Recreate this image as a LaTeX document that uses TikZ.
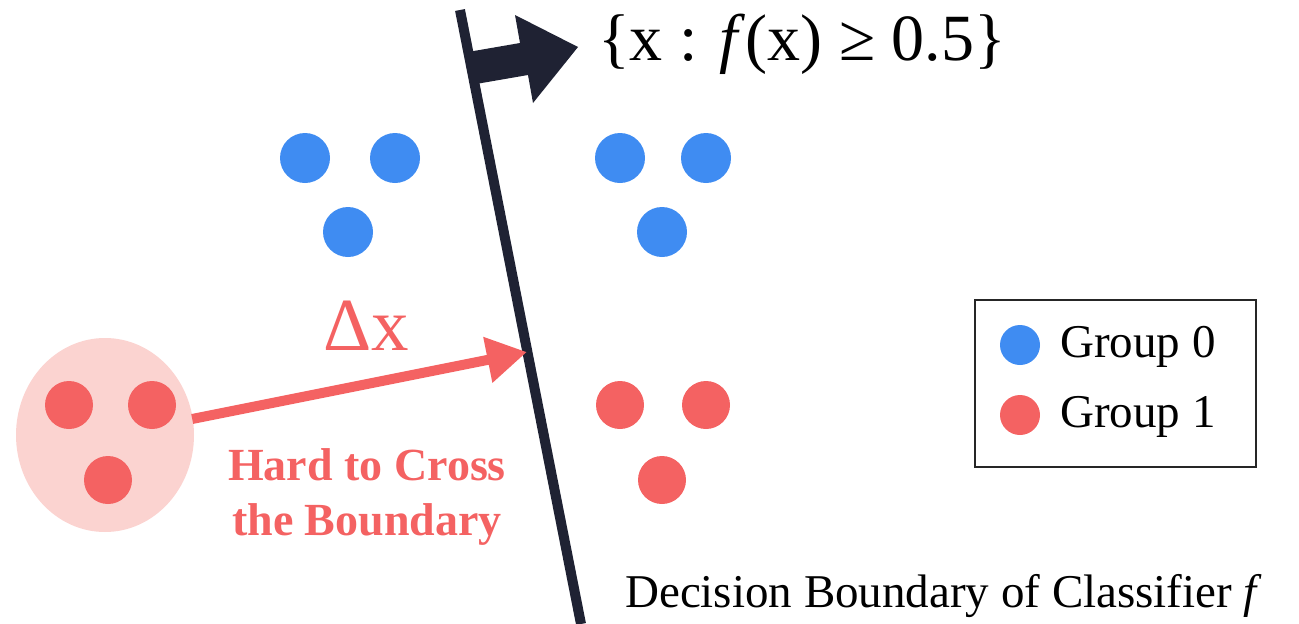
\documentclass[tikz,border=0pt]{standalone}
\usepackage{fontspec}
\setmainfont{Liberation Serif}
\usetikzlibrary{arrows.meta,shapes.geometric}
\definecolor{navy}{HTML}{1F2233}
\definecolor{gblue}{HTML}{3F8CF2}
\definecolor{gred}{HTML}{F46262}
\definecolor{pale}{HTML}{FBD3D0}
\tikzset{
  bdot/.style={circle,fill=gblue,minimum size=50pt,inner sep=0pt},
  rdot/.style={circle,fill=gred,minimum size=48pt,inner sep=0pt},
  ldot/.style={circle,minimum size=40pt,inner sep=0pt},
  lbl/.style={anchor=west,font=\fontsize{47}{50}\selectfont,inner sep=0pt},
}
\begin{document}
\begin{tikzpicture}[x=1pt,y=-1pt]
\useasboundingbox (0,0) rectangle (1299,624);
% pale cluster
\node[ellipse,fill=pale,minimum width=178pt,minimum height=194pt,inner sep=0pt] (cl) at (105,435) {};
\node[rdot] (l1) at (69,405) {};
\node[rdot] (l2) at (152,405) {};
\node[rdot] (l3) at (108,480) {};
% boundary
\coordinate (btop) at (460,10);
\coordinate (bbot) at (581,624);
\draw[navy,line width=10pt] (btop) -- (bbot);
% flag arrow
\fill[navy] (468,52) -- (520,43) -- (515,15) -- (578,47) -- (533,103) -- (528,75) -- (476,84) -- cycle;
\node[anchor=west,inner sep=0pt,font=\fontsize{66}{70}\selectfont] (set) at (598,44) {\{x : \textit{f}(x) ≥ 0.5\}};
% blue dots
\node[bdot] (b1) at (305,158) {};
\node[bdot] (b2) at (395,158) {};
\node[bdot] (b3) at (348,232) {};
\node[bdot] (b4) at (620,158) {};
\node[bdot] (b5) at (706,158) {};
\node[bdot] (b6) at (662,232) {};
% red dots right
\node[rdot] (r1) at (620,405) {};
\node[rdot] (r2) at (706,405) {};
\node[rdot] (r3) at (662,480) {};
% delta arrow
\coordinate (tip) at (527,352);
\draw[gred,line width=10pt,-{Triangle[length=40pt,width=44pt]}] (cl.east)++(-2,-16) -- (tip);
\node[text=gred,font=\fontsize{75}{80}\selectfont] (dx) at (366,326) {Δx};
\node[text=gred,font=\bfseries\fontsize{46}{55}\selectfont,align=center] (hard) at (367,497) {Hard to Cross\\the Boundary};
% legend
\node[draw=black!85,line width=1.5pt,minimum width=281pt,minimum height=167pt,inner sep=0pt] (leg) at (1115.5,383.5) {};
\node[ldot,fill=gblue] (g0) at (1020,345) {};
\node[ldot,fill=gred] (g1) at (1020,415) {};
\node[lbl] (t0) at (1060,347) {Group 0};
\node[lbl] (t1) at (1060,417) {Group 1};
% caption
\node[anchor=west,inner sep=0pt,font=\fontsize{47}{50}\selectfont] (cap) at (625,596) {Decision Boundary of Classifier \textit{f}};
\end{tikzpicture}
\end{document}
